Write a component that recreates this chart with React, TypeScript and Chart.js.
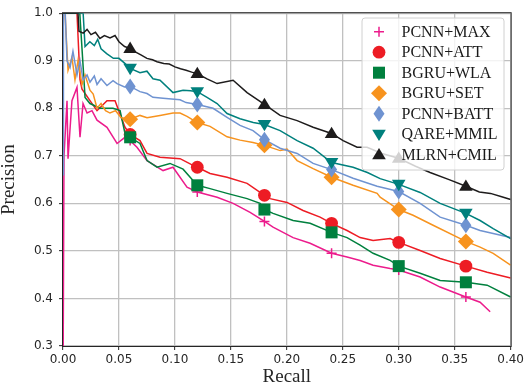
import { useEffect, useRef } from 'react';
import { Chart, registerables } from 'chart.js';

Chart.register(...registerables);

const SERIES_NAMES = ['PCNN+MAX', 'PCNN+ATT', 'BGRU+WLA', 'BGRU+SET', 'PCNN+BATT', 'QARE+MMIL', 'MLRN+CMIL'];
const SERIES_COLORS = ['#ec1c8c', '#ed1c24', '#00803e', '#f7931e', '#6f93d1', '#00807d', '#1e1c1c'];
const MARKER_RECALLS = [0.06, 0.12, 0.18, 0.24, 0.3, 0.36];
const X_TICKS = [0, 0.05, 0.1, 0.15, 0.2, 0.25, 0.3, 0.35, 0.4];
const Y_TICKS = [0.3, 0.4, 0.5, 0.6, 0.7, 0.8, 0.9, 1.0];

const maxRecall = [0, 0.0009, 0.0036, 0.0045, 0.008, 0.0125, 0.0152, 0.0179, 0.0215, 0.0259, 0.0304, 0.0393, 0.0483, 0.0554, 0.06, 0.0661, 0.0751, 0.0894, 0.0983, 0.1108, 0.12, 0.1377, 0.152, 0.1672, 0.18, 0.1877, 0.2056, 0.2208, 0.24, 0.2538, 0.2655, 0.2771, 0.2923, 0.3, 0.3191, 0.337, 0.36, 0.3727, 0.3817];
const maxPrecision = [0.2, 0.7, 0.816, 0.694, 0.816, 0.844, 0.739, 0.81, 0.79, 0.795, 0.775, 0.76, 0.726, 0.739, 0.732, 0.718, 0.69, 0.669, 0.676, 0.634, 0.624, 0.613, 0.6, 0.581, 0.562, 0.55, 0.528, 0.516, 0.495, 0.487, 0.48, 0.47, 0.463, 0.46, 0.445, 0.424, 0.403, 0.392, 0.372];

const attRecall = [0, 0.0125, 0.0152, 0.017, 0.02, 0.0241, 0.0304, 0.0393, 0.0465, 0.0554, 0.06, 0.0688, 0.0751, 0.0867, 0.1046, 0.1162, 0.12, 0.1314, 0.1466, 0.1645, 0.18, 0.185, 0.2002, 0.2145, 0.2297, 0.24, 0.2538, 0.2655, 0.2771, 0.2923, 0.3, 0.3191, 0.337, 0.36, 0.379, 0.4];
const attPrecision = [1.0, 1.0, 0.86, 0.84, 0.83, 0.816, 0.795, 0.816, 0.816, 0.76, 0.745, 0.732, 0.705, 0.697, 0.694, 0.68, 0.676, 0.663, 0.655, 0.642, 0.617, 0.61, 0.602, 0.585, 0.571, 0.558, 0.543, 0.528, 0.522, 0.526, 0.518, 0.501, 0.484, 0.468, 0.455, 0.443];

const wlaRecall = [0, 0.015, 0.0197, 0.0241, 0.0331, 0.0447, 0.051, 0.0554, 0.06, 0.0688, 0.0751, 0.084, 0.0956, 0.1073, 0.1162, 0.12, 0.1314, 0.1466, 0.1645, 0.1761, 0.18, 0.1877, 0.2056, 0.2208, 0.24, 0.2538, 0.2655, 0.2771, 0.2923, 0.3, 0.3191, 0.337, 0.36, 0.379, 0.4];
const wlaPrecision = [1.0, 1.0, 0.823, 0.81, 0.8, 0.8, 0.795, 0.747, 0.739, 0.726, 0.69, 0.676, 0.684, 0.672, 0.648, 0.638, 0.631, 0.621, 0.61, 0.6, 0.587, 0.579, 0.564, 0.558, 0.539, 0.528, 0.512, 0.495, 0.48, 0.468, 0.453, 0.438, 0.434, 0.428, 0.403];

const setRecall = [0, 0.0018, 0.0045, 0.008, 0.0107, 0.0134, 0.017, 0.0197, 0.0241, 0.027, 0.0304, 0.034, 0.038, 0.042, 0.047, 0.052, 0.06, 0.0688, 0.0751, 0.0867, 0.0983, 0.1046, 0.1108, 0.12, 0.1314, 0.1466, 0.1582, 0.1698, 0.18, 0.194, 0.2002, 0.2092, 0.2235, 0.24, 0.2592, 0.2807, 0.2834, 0.3, 0.3128, 0.3307, 0.36, 0.3727, 0.3844, 0.4];
const setPrecision = [1.0, 1.0, 0.88, 0.907, 0.86, 0.9, 0.85, 0.87, 0.838, 0.83, 0.8, 0.81, 0.795, 0.79, 0.795, 0.78, 0.777, 0.785, 0.78, 0.785, 0.79, 0.79, 0.783, 0.77, 0.762, 0.74, 0.733, 0.728, 0.722, 0.711, 0.714, 0.69, 0.673, 0.655, 0.638, 0.621, 0.613, 0.587, 0.575, 0.554, 0.52, 0.508, 0.495, 0.47];

const battRecall = [0, 0.0004, 0.002, 0.0036, 0.0063, 0.0089, 0.0125, 0.0152, 0.0179, 0.0215, 0.0241, 0.028, 0.0304, 0.034, 0.0393, 0.0447, 0.0483, 0.055, 0.06, 0.0688, 0.0751, 0.0804, 0.0894, 0.1046, 0.11, 0.12, 0.1341, 0.1466, 0.1582, 0.1698, 0.18, 0.194, 0.2092, 0.2235, 0.24, 0.2592, 0.2807, 0.3, 0.3191, 0.337, 0.36, 0.3727, 0.4];
const battPrecision = [0.66, 1.0, 1.0, 0.9, 0.886, 0.92, 0.87, 0.9, 0.86, 0.87, 0.855, 0.868, 0.85, 0.862, 0.848, 0.858, 0.852, 0.845, 0.846, 0.835, 0.831, 0.823, 0.821, 0.818, 0.812, 0.808, 0.8, 0.781, 0.764, 0.753, 0.734, 0.716, 0.705, 0.684, 0.671, 0.653, 0.636, 0.625, 0.6, 0.571, 0.554, 0.543, 0.528];

const mmilRecall = [0, 0.018, 0.0197, 0.024, 0.028, 0.031, 0.034, 0.039, 0.045, 0.05, 0.055, 0.06, 0.0688, 0.075, 0.0804, 0.0867, 0.0983, 0.1073, 0.114, 0.12, 0.1287, 0.1377, 0.1466, 0.1582, 0.17, 0.18, 0.194, 0.2092, 0.2235, 0.24, 0.2592, 0.272, 0.2834, 0.3, 0.3191, 0.337, 0.36, 0.3727, 0.3844, 0.4];
const mmilPrecision = [1.0, 1.0, 0.93, 0.94, 0.932, 0.945, 0.925, 0.915, 0.905, 0.905, 0.895, 0.884, 0.875, 0.878, 0.862, 0.859, 0.833, 0.838, 0.837, 0.835, 0.823, 0.81, 0.789, 0.778, 0.77, 0.766, 0.753, 0.732, 0.716, 0.686, 0.676, 0.665, 0.652, 0.64, 0.623, 0.6, 0.579, 0.564, 0.547, 0.526];

const cmilRecall = [0, 0.0134, 0.0143, 0.018, 0.0215, 0.025, 0.029, 0.033, 0.037, 0.042, 0.0465, 0.05, 0.055, 0.06, 0.065, 0.07, 0.075, 0.08, 0.084, 0.09, 0.095, 0.1, 0.105, 0.11, 0.115, 0.12, 0.1287, 0.1377, 0.152, 0.1645, 0.18, 0.194, 0.2092, 0.2235, 0.24, 0.2503, 0.2628, 0.2717, 0.285, 0.3, 0.315, 0.328, 0.345, 0.36, 0.372, 0.382, 0.392, 0.4];
const cmilPrecision = [1.0, 1.0, 0.962, 0.958, 0.966, 0.955, 0.96, 0.947, 0.953, 0.948, 0.953, 0.94, 0.93, 0.926, 0.918, 0.912, 0.905, 0.902, 0.898, 0.894, 0.893, 0.887, 0.883, 0.88, 0.876, 0.873, 0.862, 0.852, 0.859, 0.833, 0.808, 0.785, 0.774, 0.76, 0.747, 0.732, 0.718, 0.718, 0.705, 0.695, 0.678, 0.665, 0.65, 0.636, 0.624, 0.621, 0.614, 0.608];

const RECALLS = [maxRecall, attRecall, wlaRecall, setRecall, battRecall, mmilRecall, cmilRecall];
const PRECISIONS = [maxPrecision, attPrecision, wlaPrecision, setPrecision, battPrecision, mmilPrecision, cmilPrecision];

type MarkerKind = 'plus' | 'circle' | 'square' | 'diamond' | 'thinDiamond' | 'triDown' | 'triUp';
const MARKER_KINDS: MarkerKind[] = ['plus', 'circle', 'square', 'diamond', 'thinDiamond', 'triDown', 'triUp'];

function drawMarker(ctx: CanvasRenderingContext2D, kind: MarkerKind, x: number, y: number, color: string) {
  ctx.save();
  ctx.fillStyle = color;
  ctx.strokeStyle = color;
  ctx.lineWidth = 1;
  ctx.beginPath();
  switch (kind) {
    case 'plus':
      ctx.lineWidth = 1.5;
      ctx.moveTo(x - 5, y);
      ctx.lineTo(x + 5, y);
      ctx.moveTo(x, y - 5);
      ctx.lineTo(x, y + 5);
      ctx.stroke();
      break;
    case 'circle':
      ctx.arc(x, y, 6.4, 0, Math.PI * 2);
      ctx.fill();
      break;
    case 'square':
      ctx.rect(x - 6, y - 6, 12, 12);
      ctx.fill();
      break;
    case 'diamond':
      ctx.moveTo(x, y - 8);
      ctx.lineTo(x + 8, y);
      ctx.lineTo(x, y + 8);
      ctx.lineTo(x - 8, y);
      ctx.closePath();
      ctx.fill();
      break;
    case 'thinDiamond':
      ctx.moveTo(x, y - 8);
      ctx.lineTo(x + 5.5, y);
      ctx.lineTo(x, y + 8);
      ctx.lineTo(x - 5.5, y);
      ctx.closePath();
      ctx.fill();
      break;
    case 'triDown':
      ctx.moveTo(x - 6.8, y - 4.5);
      ctx.lineTo(x + 6.8, y - 4.5);
      ctx.lineTo(x, y + 6.8);
      ctx.closePath();
      ctx.fill();
      break;
    case 'triUp':
      ctx.moveTo(x - 6.8, y + 4.5);
      ctx.lineTo(x + 6.8, y + 4.5);
      ctx.lineTo(x, y - 6.8);
      ctx.closePath();
      ctx.fill();
      break;
  }
  ctx.restore();
}

const isMarker = (x: number) => MARKER_RECALLS.some((m) => Math.abs(m - x) < 1e-9);

const overlayPlugin = {
  id: 'overlay',
  afterDatasetsDraw(chart: any) {
    const { ctx, chartArea } = chart;
    chart.data.datasets.forEach((ds: any, i: number) => {
      const meta = chart.getDatasetMeta(i);
      meta.data.forEach((pt: any, j: number) => {
        const d = ds.data[j];
        if (isMarker(d.x)) drawMarker(ctx, MARKER_KINDS[i], pt.x, pt.y, SERIES_COLORS[i]);
      });
    });
    ctx.save();
    ctx.strokeStyle = '#262626';
    ctx.lineWidth = 1;
    ctx.strokeRect(chartArea.left - 0.5, chartArea.top - 0.5, chartArea.right - chartArea.left + 1, chartArea.bottom - chartArea.top + 1);
    ctx.restore();
  },
  afterDraw(chart: any) {
    const { ctx } = chart;
    const bx = 362, by = 18, bw = 142, bh = 152, r = 3;
    ctx.save();
    ctx.beginPath();
    ctx.moveTo(bx + r, by);
    ctx.lineTo(bx + bw - r, by);
    ctx.quadraticCurveTo(bx + bw, by, bx + bw, by + r);
    ctx.lineTo(bx + bw, by + bh - r);
    ctx.quadraticCurveTo(bx + bw, by + bh, bx + bw - r, by + bh);
    ctx.lineTo(bx + r, by + bh);
    ctx.quadraticCurveTo(bx, by + bh, bx, by + bh - r);
    ctx.lineTo(bx, by + r);
    ctx.quadraticCurveTo(bx, by, bx + r, by);
    ctx.closePath();
    ctx.fillStyle = 'rgba(255,255,255,0.8)';
    ctx.fill();
    ctx.strokeStyle = '#d0d0d0';
    ctx.lineWidth = 1;
    ctx.stroke();
    ctx.font = "16px 'Liberation Serif', 'Times New Roman', serif";
    ctx.textBaseline = 'middle';
    ctx.textAlign = 'left';
    SERIES_NAMES.forEach((name, i) => {
      const y = 31.7 + i * 20.5;
      drawMarker(ctx, MARKER_KINDS[i], 379, y, SERIES_COLORS[i]);
      ctx.fillStyle = '#1a1a1a';
      ctx.fillText(name, 401.5, y + 1);
    });
    ctx.restore();
  },
};

export default function App() {
  const canvasRef = useRef<HTMLCanvasElement | null>(null);

  useEffect(() => {
    if (!canvasRef.current) return;
    const datasets = SERIES_NAMES.map((name, i) => ({
      label: name,
      data: RECALLS[i].map((x, j) => ({ x, y: PRECISIONS[i][j] })),
      borderColor: SERIES_COLORS[i],
      backgroundColor: SERIES_COLORS[i],
      borderWidth: 1.5,
      pointRadius: 0,
      tension: 0,
      fill: false,
      order: SERIES_NAMES.length - i,
    }));
    const chart = new Chart(canvasRef.current, {
      type: 'line',
      data: { datasets },
      plugins: [overlayPlugin],
      options: {
        animation: false,
        responsive: false,
        devicePixelRatio: 1,
        layout: { padding: { top: 13, right: 16, left: 0, bottom: 0 } },
        plugins: { legend: { display: false }, tooltip: { enabled: false } },
        scales: {
          x: {
            type: 'linear',
            min: 0,
            max: 0.4,
            afterBuildTicks: (scale: any) => {
              scale.ticks = X_TICKS.map((v) => ({ value: v }));
            },
            afterFit: (scale: any) => {
              scale.height = 41;
            },
            ticks: {
              callback: (v: any) => Number(v).toFixed(2),
              font: { family: "'DejaVu Sans', sans-serif", size: 12 },
              color: '#262626',
              padding: 3,
              maxRotation: 0,
              autoSkip: false,
            },
            grid: { color: '#c0c0c0', lineWidth: 1.3, tickColor: '#262626', tickLength: 4, tickWidth: 1 },
            border: { display: false },
            title: {
              display: true,
              text: 'Recall',
              font: { family: "'Liberation Serif', 'Times New Roman', serif", size: 19, lineHeight: 1 },
              color: '#262626',
              padding: { top: 0, bottom: 0 },
            },
          },
          y: {
            type: 'linear',
            min: 0.3,
            max: 1.0,
            afterBuildTicks: (scale: any) => {
              scale.ticks = Y_TICKS.map((v) => ({ value: v }));
            },
            afterFit: (scale: any) => {
              scale.width = 63;
            },
            ticks: {
              callback: (v: any) => Number(v).toFixed(1),
              font: { family: "'DejaVu Sans', sans-serif", size: 12 },
              color: '#262626',
              padding: 6,
              autoSkip: false,
            },
            grid: { color: '#c0c0c0', lineWidth: 1.3, tickColor: '#262626', tickLength: 4, tickWidth: 1 },
            border: { display: false },
            title: {
              display: true,
              text: 'Precision',
              font: { family: "'Liberation Serif', 'Times New Roman', serif", size: 19, lineHeight: 1 },
              color: '#262626',
              padding: { top: 0, bottom: 0 },
            },
          },
        },
      },
    });
    return () => chart.destroy();
  }, []);

  return (
    <div style={{ position: 'fixed', left: 0, top: 0, width: 527, height: 387, background: '#fff' }}>
      <canvas ref={canvasRef} width={527} height={387} />
    </div>
  );
}
